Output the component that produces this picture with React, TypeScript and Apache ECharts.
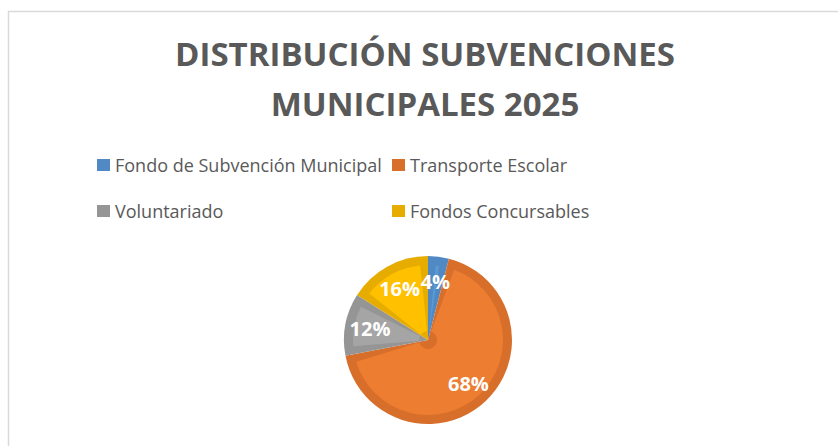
import React, { useEffect, useRef } from 'react';
import * as echarts from 'echarts';

const titleText = 'DISTRIBUCIÓN SUBVENCIONES\nMUNICIPALES 2025';
const categories = [
  'Fondo de Subvención Municipal',
  'Transporte Escolar',
  'Voluntariado',
  'Fondos Concursables',
];
const values = [4, 68, 12, 16];
const lightColors = ['#5B9BD5', '#ED7D31', '#A5A5A5', '#FFC000'];
const darkColors = ['#5089C4', '#D76F2B', '#959595', '#E6AC00'];
const legendLeftColumn = ['Fondo de Subvención Municipal', 'Voluntariado'];
const legendRightColumn = ['Transporte Escolar', 'Fondos Concursables'];

const FONT = '"Open Sans", "Noto Sans", sans-serif';

export default function App() {
  const ref = useRef<HTMLDivElement>(null);

  useEffect(() => {
    document.body.style.margin = '0';
    if (!ref.current) return;
    const chart = echarts.init(ref.current, undefined, { renderer: 'svg' });

    const legendBase = {
      orient: 'vertical',
      top: 155,
      padding: 0,
      itemWidth: 13,
      itemHeight: 12,
      itemGap: 26,
      icon: 'rect',
      selectedMode: false,
      textStyle: { fontFamily: FONT, fontSize: 18, color: '#595959', lineHeight: 20 },
    };

    chart.setOption({
      animation: false,
      backgroundColor: '#ffffff',
      title: {
        text: titleText,
        left: 425,
        top: 28,
        padding: 0,
        textAlign: 'center',
        textStyle: {
          fontFamily: FONT,
          fontWeight: 'bold',
          fontSize: 33,
          color: '#595959',
          lineHeight: 50,
        },
      },
      legend: [
        { ...legendBase, left: 97, data: legendLeftColumn },
        { ...legendBase, left: 392, data: legendRightColumn },
      ],
      graphic: [
        {
          type: 'rect',
          silent: true,
          z: -10,
          shape: { x: 8.5, y: 11.5, width: 900, height: 500 },
          style: { fill: 'none', stroke: '#D9D9D9', lineWidth: 1.5 },
        },
      ],
      series: [
        {
          type: 'pie',
          name: 'base',
          center: [428, 340],
          radius: [0, 84],
          startAngle: 90,
          clockwise: true,
          silent: true,
          label: { show: false },
          labelLine: { show: false },
          data: values.map((v, i) => ({
            name: categories[i],
            value: v,
            itemStyle: { color: darkColors[i] },
          })),
        },
        {
          type: 'pie',
          name: 'fill',
          center: [428, 340],
          radius: [9, 75],
          startAngle: 90,
          clockwise: true,
          padAngle: 12,
          silent: true,
          label: { show: false },
          labelLine: { show: false },
          data: values.map((v, i) => ({
            name: categories[i],
            value: v,
            itemStyle: { color: lightColors[i] },
          })),
        },
        {
          type: 'pie',
          name: 'labels',
          center: [428, 340],
          radius: [28, 84],
          startAngle: 90,
          clockwise: true,
          silent: true,
          itemStyle: { color: 'rgba(0,0,0,0)' },
          label: {
            show: true,
            position: 'inside',
            formatter: (p: any) => Math.round(p.percent) + '%',
            color: '#ffffff',
            fontFamily: FONT,
            fontWeight: 'bold',
            fontSize: 20,
          },
          labelLine: { show: false },
          data: values.map((v, i) => ({ name: categories[i], value: v })),
        },
      ],
    });

    return () => chart.dispose();
  }, []);

  return <div ref={ref} style={{ width: 838, height: 446 }} />;
}
